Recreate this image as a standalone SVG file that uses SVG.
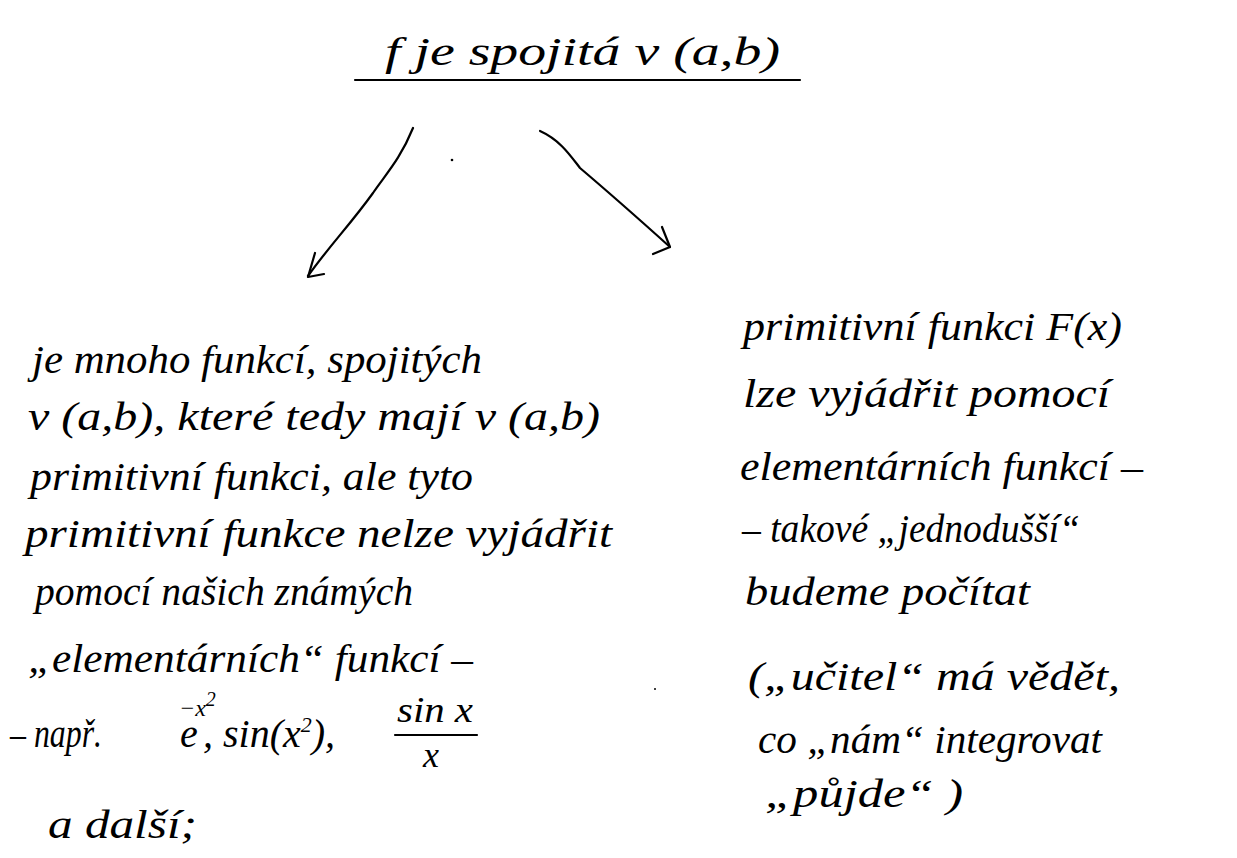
<svg xmlns="http://www.w3.org/2000/svg" width="1237" height="858" viewBox="0 0 1237 858">
<style>
  text { font-family: "Liberation Serif", "DejaVu Serif", serif; font-style: italic; fill: #000; font-size: 40px; }
  tspan.sup { font-size: 24px; }
  tspan.sup2 { font-size: 20px; }
  tspan.s { font-size: 22px; }
  text.frac { font-size: 36px; }
  .line { stroke: #000; stroke-width: 2.2; fill: none; stroke-linecap: round; stroke-linejoin: round; }
</style>
<rect width="1237" height="858" fill="#fff"/>

<g id="title">
  <text x="385" y="65" textLength="395" lengthAdjust="spacingAndGlyphs">f je spojitá v (a,b)</text>
  <line class="line" x1="355" y1="80" x2="800" y2="80"/>
</g>

<g id="connectors">
  <path class="line" d="M413,128 C400,160 385,175 373,193 C350,225 330,245 308,276"/>
  <path class="line" d="M315,253 L308,277 L324,274"/>
  <path class="line" d="M540,131 C560,140 570,155 580,168 C600,185 640,220 670,247"/>
  <path class="line" d="M662,227 L670,247 L653,254"/>
  <circle cx="452" cy="160" r="1.3" fill="#000"/>
  <circle cx="655" cy="689" r="1" fill="#000"/>
</g>

<g id="left">
  <text x="32" y="373" textLength="450" lengthAdjust="spacingAndGlyphs">je mnoho funkcí, spojitých</text>
  <text x="28" y="430" textLength="572" lengthAdjust="spacingAndGlyphs">v (a,b), které tedy mají v (a,b)</text>
  <text x="30" y="490" textLength="443" lengthAdjust="spacingAndGlyphs">primitivní funkci, ale tyto</text>
  <text x="25" y="547" textLength="587" lengthAdjust="spacingAndGlyphs">primitivní funkce nelze vyjádřit</text>
  <text x="35" y="605" textLength="378" lengthAdjust="spacingAndGlyphs">pomocí našich známých</text>
  <text x="28" y="672" textLength="445" lengthAdjust="spacingAndGlyphs">„elementárních“ funkcí –</text>
  <text x="10" y="747" textLength="92" lengthAdjust="spacingAndGlyphs">– např.</text>
  <text x="180" y="747">e<tspan class="sup" x="179" dy="-31">−x</tspan><tspan class="sup2" dy="-10">2</tspan><tspan x="203" dy="41">, sin(x</tspan><tspan class="s" dy="-15">2</tspan><tspan dy="15">),</tspan></text>
  <text x="397" y="722" class="frac" textLength="76" lengthAdjust="spacingAndGlyphs">sin x</text>
  <line class="line" x1="395" y1="735" x2="477" y2="735"/>
  <text x="423" y="767" class="frac">x</text>
  <text x="48" y="838" textLength="149" lengthAdjust="spacingAndGlyphs">a další;</text>
</g>

<g id="right">
  <text x="743" y="340" textLength="379" lengthAdjust="spacingAndGlyphs">primitivní funkci F(x)</text>
  <text x="743" y="407" textLength="367" lengthAdjust="spacingAndGlyphs">lze vyjádřit pomocí</text>
  <text x="740" y="480" textLength="403" lengthAdjust="spacingAndGlyphs">elementárních funkcí –</text>
  <text x="742" y="542" textLength="338" lengthAdjust="spacingAndGlyphs">– takové „jednodušší“</text>
  <text x="745" y="605" textLength="285" lengthAdjust="spacingAndGlyphs">budeme počítat</text>
  <text x="748" y="690" textLength="372" lengthAdjust="spacingAndGlyphs">(„učitel“ má vědět,</text>
  <text x="758" y="753" textLength="344" lengthAdjust="spacingAndGlyphs">co „nám“ integrovat</text>
  <text x="765" y="807" textLength="198" lengthAdjust="spacingAndGlyphs">„půjde“ )</text>
</g>
</svg>
